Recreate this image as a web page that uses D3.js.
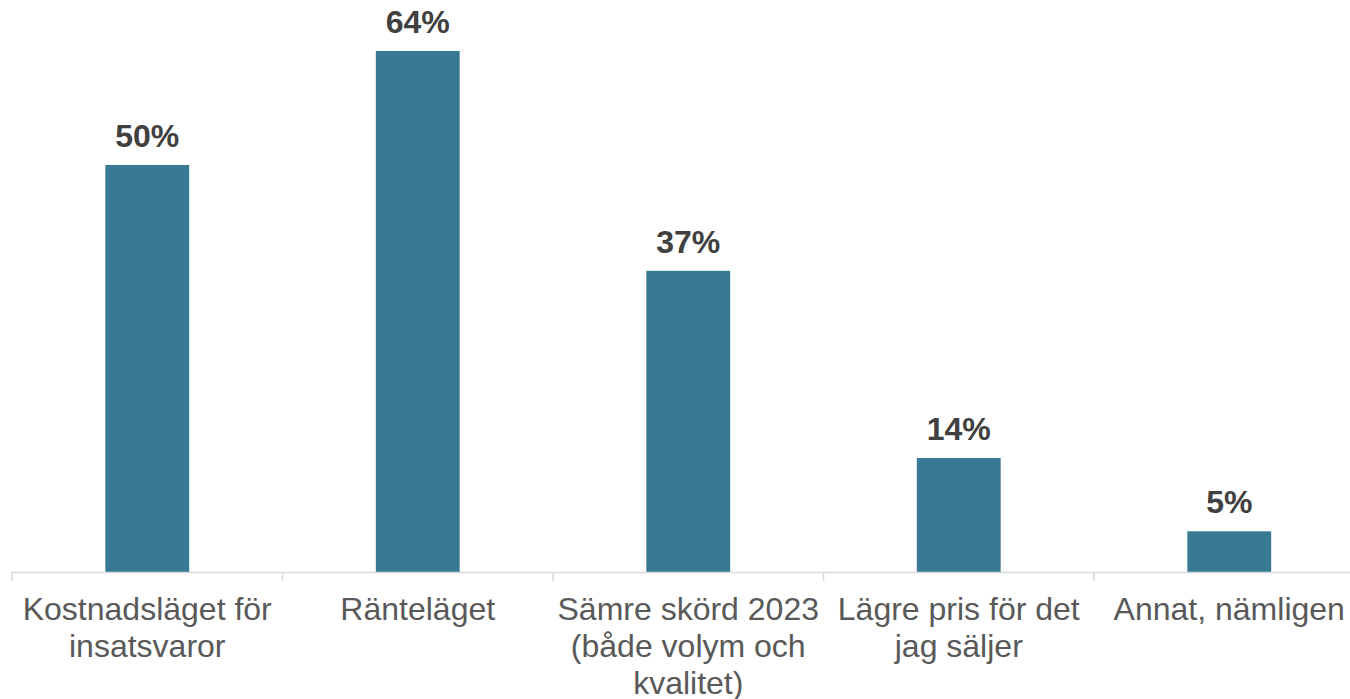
<!DOCTYPE html>
<html><head><meta charset="utf-8">
<script src="https://cdn.jsdelivr.net/npm/d3@7"></script>
<style>body{margin:0;background:#fff}svg{display:block}</style>
</head><body><svg id="c" width="1350" height="699"></svg>
<script>
const categories = ["Kostnadsläget för insatsvaror","Ränteläget","Sämre skörd 2023 (både volym och kvalitet)","Lägre pris för det jag säljer","Annat, nämligen"];
const values = [50,64,37,14,5];

const svg = d3.select("#c");
const x = d3.scaleBand().domain(categories).range([12,1364.5]).paddingInner(0.69).paddingOuter(0.345);
const y = d3.scaleLinear().domain([0,64]).range([572,51]);

svg.selectAll("rect.bar").data(values).enter().append("rect")
  .attr("x",(d,i)=>x(categories[i])).attr("width",x.bandwidth())
  .attr("y",d=>y(d)).attr("height",d=>y(0)-y(d)).attr("fill","#387a94");

svg.selectAll("text.val").data(values).enter().append("text")
  .attr("x",(d,i)=>x(categories[i])+x.bandwidth()/2).attr("y",d=>y(d)-18)
  .attr("text-anchor","middle").attr("font-family","Liberation Sans, Arial, sans-serif")
  .attr("font-weight","bold").attr("font-size",32).attr("fill","#404040")
  .text(d=>d+"%");

// axis
const band = d3.scaleBand().domain(categories).range([12,1364.5]);
svg.append("line").attr("x1",12).attr("x2",1350).attr("y1",572.5).attr("y2",572.5).attr("stroke","#d9d9d9").attr("stroke-width",1.5);
const ticks = categories.map(c=>band(c)).concat([1364.5]);
svg.selectAll("line.tick").data(ticks).enter().append("line")
  .attr("x1",d=>d).attr("x2",d=>d).attr("y1",572).attr("y2",581).attr("stroke","#d9d9d9").attr("stroke-width",1.5);

const labels = svg.selectAll("text.cat").data(categories).enter().append("text")
  .attr("x",d=>band(d)+band.bandwidth()/2).attr("y",620)
  .attr("text-anchor","middle").attr("font-family","Liberation Sans, Arial, sans-serif")
  .attr("font-size",32).attr("fill","#595959");
labels.each(function(d){
  const t = d3.select(this); const words = d.split(" "); let line=[]; let lines=[];
  const ts = t.append("tspan");
  words.forEach(w=>{ line.push(w); ts.text(line.join(" "));
    if(ts.node().getComputedTextLength()>275 && line.length>1){ line.pop(); lines.push(line.join(" ")); line=[w]; }});
  lines.push(line.join(" ")); ts.remove();
  lines.forEach((l,i)=>t.append("tspan").attr("x",band(d)+band.bandwidth()/2).attr("dy",i?37:0).text(l));
});
</script></body></html>
